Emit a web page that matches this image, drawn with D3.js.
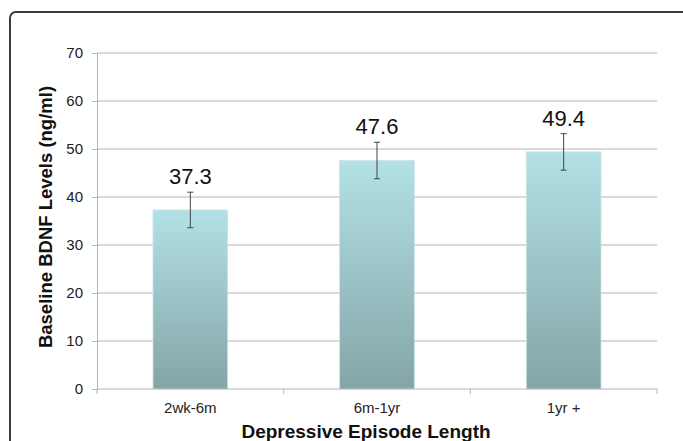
<!DOCTYPE html>
<html>
<head>
<meta charset="utf-8">
<script src="https://cdn.jsdelivr.net/npm/d3@7"></script>
<style>
  body { margin: 0; background: #fff; }
  text { font-family: "Liberation Sans", Arial, sans-serif; }
</style>
</head>
<body>
<svg id="chart"></svg>
<script>
// chart values
const categories = ["2wk-6m", "6m-1yr", "1yr +"];
const means = [37.3, 47.6, 49.4];
const errors = [3.7, 3.8, 3.8];
const yTicks = [0, 10, 20, 30, 40, 50, 60, 70];

const W = 683, H = 441;
const margin = { top: 53, bottom: 52, right: 26, left: 97 };
const width = W - margin.left - margin.right;
const height = H - margin.top - margin.bottom;

const svg = d3.select("#chart")
    .attr("width", W)
    .attr("height", H);

// outer frame (rounded, runs off right and bottom edges)
svg.append("rect")
    .attr("x", 10)
    .attr("y", 12)
    .attr("width", 700)
    .attr("height", 460)
    .attr("rx", 6)
    .attr("fill", "none")
    .attr("stroke", "#3c3c3c")
    .attr("stroke-width", 2);

const defs = svg.append("defs");
const grad = defs.append("linearGradient")
    .attr("id", "barGrad")
    .attr("x1", 0).attr("y1", 0).attr("x2", 0).attr("y2", 1);
grad.append("stop").attr("offset", "0%").attr("stop-color", "#b3e1e6");
grad.append("stop").attr("offset", "100%").attr("stop-color", "#84a5a7");

const chart = svg.append("g")
    .attr("transform", `translate(${margin.left},${margin.top})`);

const xScale = d3.scaleBand()
    .domain(categories)
    .range([0, width])
    .paddingInner(0.6)
    .paddingOuter(0.3);

const yScale = d3.scaleLinear()
    .domain([0, 70])
    .range([height, 0]);

// gridlines
chart.selectAll(".grid")
    .data(yTicks.filter(d => d > 0))
    .join("line")
    .attr("class", "grid")
    .attr("x1", 0)
    .attr("x2", width)
    .attr("y1", d => yScale(d))
    .attr("y2", d => yScale(d))
    .attr("stroke", "#b4b4b4")
    .attr("stroke-width", 1);

// y axis
const yAxisG = chart.append("g")
    .call(d3.axisLeft(yScale).tickValues(yTicks).tickSize(5).tickPadding(9));
yAxisG.select(".domain").attr("stroke", "#b4b4b4");
yAxisG.selectAll(".tick line").attr("stroke", "#b4b4b4");
yAxisG.selectAll(".tick text")
    .attr("font-size", "15px")
    .attr("fill", "#222");

// bars
chart.selectAll(".bar")
    .data(categories)
    .join("rect")
    .attr("class", "bar")
    .attr("x", d => xScale(d))
    .attr("y", (d, i) => yScale(means[i]))
    .attr("width", xScale.bandwidth())
    .attr("height", (d, i) => height - yScale(means[i]))
    .attr("fill", "url(#barGrad)")
    .attr("stroke", "#c9e3e6")
    .attr("stroke-width", 0.8);

// x axis (ticks at category boundaries)
const step = width / categories.length;
const xAxisG = chart.append("g")
    .attr("transform", `translate(0,${height})`);
xAxisG.append("line")
    .attr("x1", 0).attr("x2", width)
    .attr("stroke", "#b4b4b4");
xAxisG.selectAll(".xtick")
    .data(d3.range(categories.length + 1))
    .join("line")
    .attr("class", "xtick")
    .attr("x1", d => d * step)
    .attr("x2", d => d * step)
    .attr("y1", 0)
    .attr("y2", 5)
    .attr("stroke", "#b4b4b4");
xAxisG.selectAll(".xlabel")
    .data(categories)
    .join("text")
    .attr("class", "xlabel")
    .attr("x", d => xScale(d) + xScale.bandwidth() / 2)
    .attr("y", 24)
    .attr("text-anchor", "middle")
    .attr("font-size", "15px")
    .attr("fill", "#222")
    .text(d => d);

// error bars
const cx = d => xScale(d) + xScale.bandwidth() / 2;
const eb = chart.selectAll(".err")
    .data(categories)
    .join("g")
    .attr("class", "err")
    .attr("stroke", "#444")
    .attr("stroke-width", 1);
eb.append("line")
    .attr("x1", cx).attr("x2", cx)
    .attr("y1", (d, i) => yScale(means[i] + errors[i]))
    .attr("y2", (d, i) => yScale(means[i] - errors[i]));
eb.append("line")
    .attr("x1", d => cx(d) - 3).attr("x2", d => cx(d) + 3)
    .attr("y1", (d, i) => yScale(means[i] + errors[i]))
    .attr("y2", (d, i) => yScale(means[i] + errors[i]));
eb.append("line")
    .attr("x1", d => cx(d) - 3).attr("x2", d => cx(d) + 3)
    .attr("y1", (d, i) => yScale(means[i] - errors[i]))
    .attr("y2", (d, i) => yScale(means[i] - errors[i]));

// value labels
chart.selectAll(".val")
    .data(categories)
    .join("text")
    .attr("class", "val")
    .attr("x", cx)
    .attr("y", (d, i) => yScale(means[i] + errors[i]) - 8)
    .attr("text-anchor", "middle")
    .attr("font-size", "22px")
    .attr("fill", "#111")
    .text((d, i) => means[i].toFixed(1));

// axis titles
svg.append("text")
    .attr("transform", "translate(52,217) rotate(-90)")
    .attr("text-anchor", "middle")
    .attr("font-weight", "bold")
    .attr("font-size", "18.5px")
    .attr("fill", "#111")
    .text("Baseline BDNF Levels (ng/ml)");

svg.append("text")
    .attr("x", 366)
    .attr("y", 438)
    .attr("text-anchor", "middle")
    .attr("font-weight", "bold")
    .attr("font-size", "19px")
    .attr("fill", "#111")
    .text("Depressive Episode Length");
</script>
</body>
</html>
